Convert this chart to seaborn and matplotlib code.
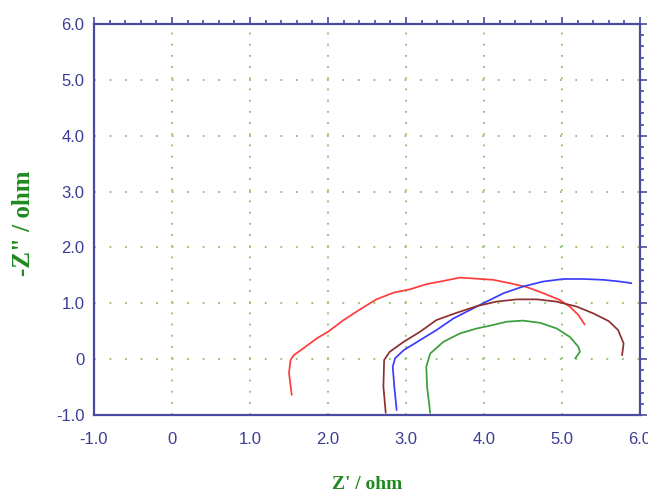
import numpy as np
import pandas as pd
import matplotlib
matplotlib.use("Agg")
import matplotlib.pyplot as plt
from matplotlib.ticker import MultipleLocator, FuncFormatter
import seaborn as sns

# Данные: Z' и -Z'' для четырёх кривых
red_x = [1.535, 1.50, 1.52, 1.56, 1.68, 1.855, 2.00, 2.20, 2.41, 2.62, 2.84, 3.05,
         3.27, 3.48, 3.69, 3.91, 4.12, 4.33, 4.55, 4.76, 4.97, 5.10, 5.21, 5.29]
red_y = [-0.64, -0.25, -0.015, 0.07, 0.19, 0.37, 0.49, 0.70, 0.89, 1.07, 1.19, 1.25,
         1.345, 1.40, 1.46, 1.44, 1.42, 1.36, 1.29, 1.18, 1.06, 0.94, 0.79, 0.62]

blue_x = [2.88, 2.85, 2.83, 2.86, 2.97, 3.18, 3.39, 3.61, 3.82, 3.99, 4.25, 4.50,
          4.76, 5.02, 5.27, 5.53, 5.74, 5.89]
blue_y = [-0.91, -0.49, -0.135, 0.015, 0.16, 0.34, 0.52, 0.73, 0.88, 1.00, 1.18, 1.30,
          1.39, 1.435, 1.435, 1.42, 1.39, 1.36]

brown_x = [2.74, 2.71, 2.72, 2.79, 2.97, 3.18, 3.39, 3.65, 3.91, 4.16, 4.42, 4.68,
           4.93, 5.19, 5.40, 5.60, 5.72, 5.79, 5.77]
brown_y = [-0.96, -0.49, -0.015, 0.13, 0.31, 0.49, 0.70, 0.83, 0.95, 1.03, 1.07, 1.07,
           1.03, 0.94, 0.82, 0.68, 0.52, 0.28, 0.07]

green_x = [3.31, 3.27, 3.26, 3.31, 3.48, 3.69, 3.91, 4.08, 4.29, 4.50, 4.72, 4.93,
           5.10, 5.21, 5.23, 5.17]
green_y = [-0.96, -0.49, -0.135, 0.10, 0.31, 0.46, 0.55, 0.60, 0.67, 0.69, 0.65, 0.55,
           0.40, 0.22, 0.13, 0.015]

curves = {"red": (red_x, red_y), "blue": (blue_x, blue_y),
          "brown": (brown_x, brown_y), "green": (green_x, green_y)}
colors = {"red": "#ff3b3b", "blue": "#3b3bff", "brown": "#8e2f2f", "green": "#3a9e3a"}

df = pd.concat([pd.DataFrame({"x": xs, "y": ys, "curve": name})
                for name, (xs, ys) in curves.items()], ignore_index=True)

sns.set_style("white")
plt.rcParams["axes.unicode_minus"] = False

axis_color = "#4a4aa0"
fig = plt.figure(figsize=(6.48, 4.95), dpi=100)
ax = fig.add_axes([94 / 648, 1 - 415 / 495, 546 / 648, 391 / 495])

# Пунктирная сетка (точки на каждой малой метке)
ax.set_axisbelow(True)
ax.xaxis.grid(True, color="#8cc06a", linewidth=1.3, linestyle=(0, (1, 5.2)))
ax.yaxis.grid(True, color="#8cc06a", linewidth=1.3, linestyle=(0, (1, 7.6)))

sns.lineplot(data=df, x="x", y="y", hue="curve", palette=colors, units="curve",
             estimator=None, sort=False, linewidth=1.25, legend=False, ax=ax)

ax.set_xlim(-1, 6)
ax.set_ylim(-1, 6)
fmt = FuncFormatter(lambda v, p: "0" if abs(v) < 1e-9 else f"{v:.1f}")
for axis in (ax.xaxis, ax.yaxis):
    axis.set_major_locator(MultipleLocator(1))
    axis.set_minor_locator(MultipleLocator(0.2))
    axis.set_major_formatter(fmt)

ax.tick_params(which="both", direction="out", color=axis_color, width=1.2,
               top=True, right=True, labeltop=False, labelright=False)
ax.tick_params(which="major", length=5)
ax.tick_params(which="minor", length=3)
for s in ax.spines.values():
    s.set_color(axis_color)
    s.set_linewidth(1.6)

tick_font = ["Liberation Sans Narrow", "Liberation Sans", "DejaVu Sans"]
for lab in ax.get_xticklabels() + ax.get_yticklabels():
    lab.set_family(tick_font)
    lab.set_fontsize(12)
    lab.set_color("#3c3c96")
ax.tick_params(axis="x", pad=7)
ax.tick_params(axis="y", pad=2)

label_font = ["Liberation Serif", "DejaVu Serif"]
ax.set_xlabel("Z' / ohm", family=label_font, fontweight="bold",
              fontsize=14, color="#1f8a1f", va="center")
ax.set_ylabel('-Z" / ohm', family=label_font, fontweight="bold",
              fontsize=18, color="#1f8a1f", va="center")
ax.xaxis.set_label_coords(0.5, -0.178)
ax.yaxis.set_label_coords(-0.13, 0.49)

fig.savefig("out.png", dpi=100)
